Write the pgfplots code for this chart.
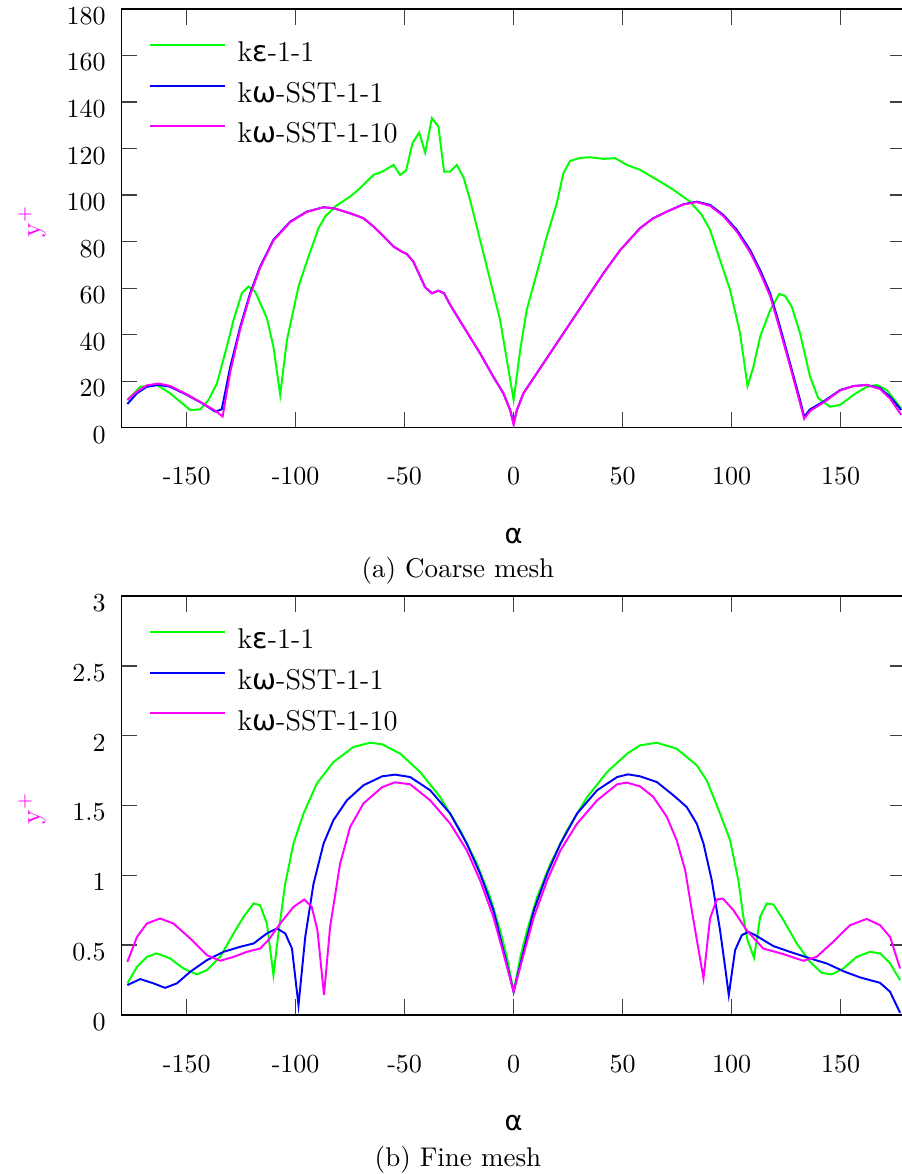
\documentclass[border=0pt]{standalone}
\usepackage{pgfplots}
\pgfplotsset{compat=1.18}
\usepackage{fontspec}
\newfontfamily\gr{DejaVu Sans}
\definecolor{cgreen}{RGB}{0,255,0}
\definecolor{cblue}{RGB}{0,0,255}
\definecolor{cmag}{RGB}{255,0,255}
\pgfplotsset{
  myaxis/.style={
    width=301.8pt, height=161pt, scale only axis,
    xmin=-180, xmax=180,
    xtick={-150,-100,-50,0,50,100,150},
    xticklabels={-150,-100,-50,0,50,100,150},
    tick align=inside,
    major tick length=6pt,
    every tick/.style={black!75, line width=0.5pt},
    axis line style={black, line width=0.6pt},
    xticklabel style={anchor=center, yshift=-18.8pt},
    yticklabel style={xshift=-2.5pt, yshift=-2.7pt},
    xlabel={\gr α},
    xlabel style={at={(axis description cs:0.5,0)}, anchor=center, yshift=-41.5pt, font=\fontsize{10.5}{12}\selectfont},
    ylabel={\textcolor{cmag}{y$^+$}},
    ylabel style={at={(axis description cs:-0.1137,0.4928)}, anchor=center, font=\fontsize{10.5}{12}\selectfont},
    legend cell align=left,
    legend style={at={(axis description cs:0,1)}, anchor=north west, xshift=10.65pt, yshift=-10.5pt, draw=none, fill=none, inner sep=0pt, row sep=2.4pt, column sep=2.6pt, font=\fontsize{11}{13}\selectfont, nodes={inner sep=2pt, text height=7.6pt, text depth=1.6pt}},
    legend image code/.code={\draw[#1, line width=0.75pt] (0pt,3.4pt) -- (28.5pt,3.4pt);},
    every axis plot/.append style={line width=0.75pt},
  }
}
\begin{document}
\begin{tikzpicture}
\path[use as bounding box] (-46.65pt,-287.04pt) rectangle (299.9pt,164.5pt);
\begin{axis}[myaxis, at={(0pt,0pt)}, anchor=south west,
  ymin=0, ymax=180, ytick={0,20,...,180},
  yticklabels={0,20,40,60,80,100,120,140,160,180}]
\addplot[cgreen] coordinates {(-177.2,11.9) (-171.3,17.6) (-163.7,18.4) (-157.6,14.8) (-148.4,7.6) (-143.8,7.9) (-140,11.9) (-136.1,19.1) (-131.6,34.8) (-128.5,46.3) (-124.7,57.8) (-121.7,60.7) (-118.6,58.5) (-113.2,47.1) (-110.2,34.8) (-107.1,14.1) (-104,37.7) (-98.7,60.7) (-94.1,73.6) (-89.5,85.8) (-86.5,90.8) (-81.9,95.1) (-75,99.4) (-70.4,103) (-64.3,108.7) (-60.3,110.1) (-55.1,113) (-52.1,108.7) (-49.3,110.6) (-46.4,122.4) (-43.3,126.9) (-40.6,118.3) (-37.5,133.1) (-34.5,129.5) (-31.9,110.1) (-29.1,110.1) (-26.1,113) (-23,107.7) (-20,98) (-15.4,80.8) (-10.8,63.5) (-6.2,46.3) (-3.1,29.1) (0,11.9) (3,33.4) (6,50.6) (10.6,66.4) (15.2,82.2) (19.8,96.5) (22.8,109.4) (25.9,114.7) (30.5,116) (35.1,116.3) (41.2,115.6) (46.6,115.9) (51.9,113) (58,110.9) (67.2,105.8) (73.3,102.3) (81,97.2) (86.3,91.5) (90.1,85.1) (94.7,72.1) (99.3,59.2) (103.9,40.6) (107.3,17.9) (110,26.2) (113.1,39.2) (117.7,50.6) (121.9,57.5) (124.5,56.7) (127.6,52) (131.4,40.6) (136,21.9) (139.8,12.6) (145.2,9) (149.8,9.8) (155.9,14.1) (162,17.6) (166.6,18.4) (171.2,16.2) (177.8,8.3)};
\addlegendentry{k{\gr ε}-1-1}
\addplot[cblue] coordinates {(-177.2,10.2) (-172.8,14.8) (-168.3,17.6) (-162.9,18.4) (-157.6,17.6) (-149.9,14.1) (-142.3,10.2) (-136.9,6.9) (-133.9,7.9) (-130,26.2) (-125.4,43.5) (-120.9,57.8) (-116.3,69.3) (-110.2,80.8) (-102.5,88.6) (-94.9,92.9) (-87.2,94.8) (-82.7,94.4) (-75,92.2) (-68.9,90.1) (-64.3,86.5) (-60.3,82.9) (-55.1,77.9) (-51.3,75.7) (-49,74.7) (-46,71.4) (-40.6,60.4) (-37.5,57.8) (-34.5,58.9) (-31.9,57.8) (-29.1,52.8) (-23,43.5) (-15.4,32) (-9.3,21.9) (-4.7,14.8) (-1.6,7.6) (0,1.9) (1.5,7.6) (4.5,14.8) (10.6,23.4) (18.3,34.2) (25.9,44.9) (33.6,55.7) (41.2,66.4) (48.9,76.4) (58,85.8) (64.1,90.1) (70.3,92.9) (77.9,96.1) (84,97.2) (90.1,95.8) (96.2,91.5) (102.4,85.1) (108.5,76.4) (113.1,67.8) (117.7,57.8) (122.2,43.5) (126.8,27.7) (131.4,11.9) (133.3,4.7) (136,7.9) (142.1,11.2) (149.8,16.2) (155.9,17.9) (162,18.4) (168.1,17) (172.7,13.3) (177.8,7.6)};
\addlegendentry{k{\gr ω}-SST-1-1}
\addplot[cmag] coordinates {(-177.2,12) (-172.8,15.5) (-168.3,18.2) (-162.9,19) (-157.6,18) (-149.9,14.3) (-142.3,10.3) (-136.9,7.3) (-133.5,4.8) (-130,24) (-125.4,42.5) (-120.9,57) (-116.3,68.8) (-110.2,80.5) (-102.5,88.4) (-94.9,92.8) (-87.2,94.8) (-82.7,94.4) (-75,92.2) (-68.9,90.1) (-64.3,86.5) (-60.3,82.9) (-55.1,77.9) (-51.3,75.7) (-49,74.7) (-46,71.4) (-40.6,60.4) (-37.5,57.8) (-34.5,58.9) (-31.9,57.8) (-29.1,52.8) (-23,43.5) (-15.4,32) (-9.3,21.9) (-4.7,14.8) (-1.6,7.6) (0,1.2) (1.5,7.6) (4.5,14.8) (10.6,23.4) (18.3,34.2) (25.9,44.9) (33.6,55.7) (41.2,66.4) (48.9,76.4) (58,85.8) (64.1,90.1) (70.3,92.9) (77.9,96) (84,97) (90.1,95.4) (96.2,91) (102.4,84.3) (108.5,75.4) (113.1,66.6) (117.7,56.5) (122.2,42) (126.8,26.5) (131.4,10.5) (133.3,3.8) (136,7.2) (142.1,10.8) (149.8,16) (155.9,17.9) (162,18.4) (168.1,16.6) (172.7,12.5) (177.8,5.5)};
\addlegendentry{k{\gr ω}-SST-1-10}
\end{axis}
\node[anchor=center, font=\fontsize{10.4}{12}\selectfont] at (129.5pt,-54.9pt) {(a) Coarse mesh};
\begin{axis}[myaxis, at={(0pt,-225.8pt)}, anchor=south west,
  ymin=0, ymax=3, ytick={0,0.5,1,1.5,2,2.5,3},
  yticklabels={0,0.5,1,1.5,2,2.5,3}]
\addplot[cgreen] coordinates {(-177.2,0.225) (-172.8,0.344) (-168.3,0.415) (-163.7,0.44) (-157.6,0.404) (-151.5,0.332) (-145.3,0.289) (-140.7,0.32) (-134.6,0.415) (-128.5,0.583) (-123.9,0.702) (-119.3,0.798) (-116.3,0.785) (-113.2,0.654) (-110.2,0.284) (-107.9,0.583) (-104.8,0.94) (-101,1.227) (-96.4,1.442) (-90.3,1.657) (-82.7,1.811) (-73.5,1.919) (-65.8,1.95) (-60.3,1.938) (-52.1,1.872) (-42.9,1.74) (-33.7,1.56) (-24.5,1.322) (-16.9,1.084) (-10.8,0.845) (-6.2,0.606) (-3.1,0.415) (0,0.165) (3.1,0.415) (6.2,0.606) (10.8,0.845) (16.9,1.084) (24.5,1.322) (33.7,1.56) (42.9,1.74) (52.1,1.872) (58,1.931) (65.6,1.95) (74.8,1.907) (84,1.788) (88.6,1.68) (94.7,1.442) (99.3,1.251) (103.1,0.964) (105.4,0.702) (107.3,0.535) (110.3,0.408) (113.1,0.702) (116.1,0.798) (119.2,0.79) (123.8,0.678) (129.9,0.511) (136,0.379) (141.3,0.301) (145.9,0.289) (151.3,0.332) (157.4,0.415) (163.5,0.451) (168.1,0.44) (172.7,0.368) (177.3,0.248)};
\addlegendentry{k{\gr ε}-1-1}
\addplot[cblue] coordinates {(-177.2,0.213) (-171.3,0.256) (-165.2,0.225) (-159.9,0.193) (-154.5,0.225) (-148.4,0.308) (-140.7,0.392) (-133.1,0.451) (-125.5,0.487) (-119.3,0.511) (-113.2,0.583) (-108.6,0.619) (-104.8,0.583) (-101.7,0.475) (-98.7,0.069) (-95.6,0.558) (-91.8,0.94) (-87.2,1.227) (-82.7,1.394) (-76.5,1.537) (-68.9,1.645) (-60.3,1.709) (-54.4,1.721) (-47.5,1.704) (-38.3,1.609) (-29.1,1.442) (-21.5,1.227) (-15.4,1.012) (-9.3,0.75) (-4.7,0.463) (0,0.165) (4.7,0.463) (9.3,0.75) (15.4,1.012) (21.5,1.227) (29.1,1.442) (38.3,1.609) (47.5,1.704) (52.5,1.723) (58,1.709) (65.7,1.668) (73.3,1.573) (79.4,1.489) (84,1.37) (87.1,1.227) (90.9,0.964) (94.7,0.606) (97,0.344) (98.7,0.141) (101.6,0.463) (104.7,0.571) (107.7,0.594) (110.8,0.571) (119.2,0.492) (126.8,0.451) (136,0.404) (143.6,0.368) (151.2,0.313) (158.9,0.268) (168.1,0.229) (172.7,0.165) (177.3,0.014)};
\addlegendentry{k{\gr ω}-SST-1-1}
\addplot[cmag] coordinates {(-177.2,0.379) (-172.8,0.558) (-168.3,0.654) (-162.2,0.69) (-156.1,0.654) (-148.4,0.547) (-140.7,0.427) (-134.6,0.387) (-128.5,0.415) (-122.4,0.451) (-116.3,0.475) (-112.5,0.535) (-107.1,0.654) (-101,0.773) (-96.1,0.826) (-92.6,0.773) (-90,0.606) (-87,0.141) (-84.2,0.63) (-79.6,1.084) (-75,1.346) (-68.9,1.514) (-60.3,1.632) (-54.4,1.666) (-47.5,1.652) (-38.3,1.537) (-29.1,1.37) (-21.5,1.179) (-15.4,0.964) (-9.3,0.702) (-4.7,0.44) (0,0.165) (4.7,0.44) (9.3,0.702) (15.4,0.964) (21.5,1.179) (29.1,1.37) (38.3,1.537) (47.5,1.652) (51.9,1.664) (58,1.637) (64.1,1.561) (70.3,1.418) (74.8,1.251) (78.7,1.036) (82.5,0.678) (87.1,0.261) (90.1,0.69) (93.2,0.826) (96,0.833) (100.8,0.75) (106.9,0.606) (114.5,0.475) (123.7,0.435) (132.9,0.387) (139,0.415) (146.6,0.523) (154.3,0.642) (162,0.687) (168.1,0.642) (172.7,0.558) (177.3,0.332)};
\addlegendentry{k{\gr ω}-SST-1-10}
\end{axis}
\node[anchor=center, font=\fontsize{10.4}{12}\selectfont] at (129.5pt,-281.5pt) {(b) Fine mesh};
\end{tikzpicture}
\end{document}
